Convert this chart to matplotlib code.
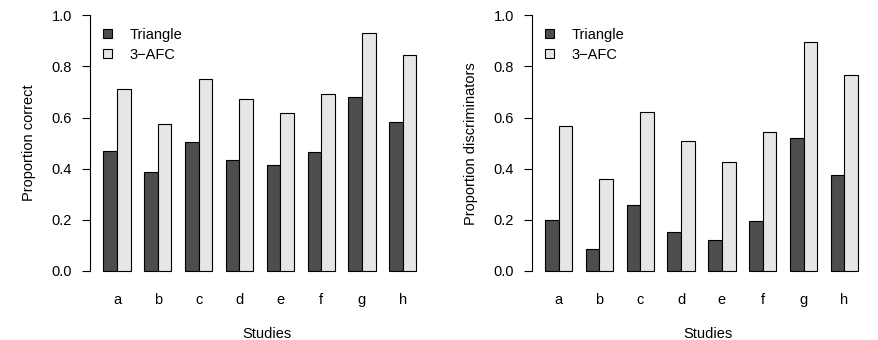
import matplotlib
matplotlib.use("Agg")
import matplotlib.pyplot as plt
import numpy as np
from matplotlib.patches import Patch

plt.rcParams["font.family"] = ["Liberation Sans", "DejaVu Sans"]
plt.rcParams["font.size"] = 10.5

studies = ["a", "b", "c", "d", "e", "f", "g", "h"]
series_names = ["Triangle", "3\u2212AFC"]

# proportion correct
pc_triangle = [0.468, 0.389, 0.505, 0.433, 0.413, 0.464, 0.681, 0.584]
pc_afc = [0.711, 0.574, 0.750, 0.671, 0.617, 0.694, 0.930, 0.845]

# proportion discriminators
pd_triangle = [0.199, 0.085, 0.257, 0.151, 0.121, 0.196, 0.520, 0.377]
pd_afc = [0.566, 0.361, 0.623, 0.507, 0.425, 0.542, 0.894, 0.767]

dark = "#4D4D4D"
light = "#E6E6E6"

W, H = 879, 340
fig = plt.figure(figsize=(W / 100, H / 100), dpi=100)


def bar_panel(rect, tri, afc, ylabel):
    ax = fig.add_axes(rect)
    idx = np.arange(len(studies))
    # R barplot(beside=TRUE) layout: space of 1 bar before each group of 2
    x_tri = 1.5 + 3 * idx
    x_afc = 2.5 + 3 * idx
    ax.bar(x_tri, tri, width=1, color=dark, edgecolor="black", lw=0.8)
    ax.bar(x_afc, afc, width=1, color=light, edgecolor="black", lw=0.8)

    ax.set_xlim(0.04, 25.96)
    ax.set_ylim(-0.04, 1.04)
    ax.set_xticks(2 + 3 * idx)
    ax.set_xticklabels(studies)
    ax.tick_params(axis="x", length=0, pad=8.5)

    ax.set_yticks(np.arange(0, 1.01, 0.2))
    ax.set_yticklabels([f"{v:.1f}" for v in np.arange(0, 1.01, 0.2)])
    ax.tick_params(axis="y", length=6, width=0.8, pad=7)

    for s in ["top", "right", "bottom"]:
        ax.spines[s].set_visible(False)
    ax.spines["left"].set_bounds(0, 1)
    ax.spines["left"].set_linewidth(0.8)
    ax.patch.set_visible(False)

    ax.set_ylabel(ylabel)
    ax.yaxis.set_label_coords(-(90.3 - 36) / 352.8, 0.5)
    ax.set_xlabel("Studies")
    ax.xaxis.set_label_coords(0.5, -(327 - 281.2) / 276.1)

    handles = [
        Patch(facecolor=dark, edgecolor="black", lw=0.8),
        Patch(facecolor=light, edgecolor="black", lw=0.8),
    ]
    ax.legend(
        handles,
        series_names,
        loc="upper left",
        bbox_to_anchor=(0.036, 0.918),
        frameon=False,
        borderpad=0,
        borderaxespad=0,
        handlelength=0.62,
        handleheight=0.62,
        handletextpad=1.2,
        labelspacing=0.4,
    )
    return ax


ax_w = 352.8 / W
ax_h = 276.1 / H
ax_b = (H - 281.2) / H
bar_panel([90.3 / W, ax_b, ax_w, ax_h], pc_triangle, pc_afc, "Proportion correct")
bar_panel([531.9 / W, ax_b, ax_w, ax_h], pd_triangle, pd_afc, "Proportion discriminators")

fig.savefig("out.png", dpi=100)
